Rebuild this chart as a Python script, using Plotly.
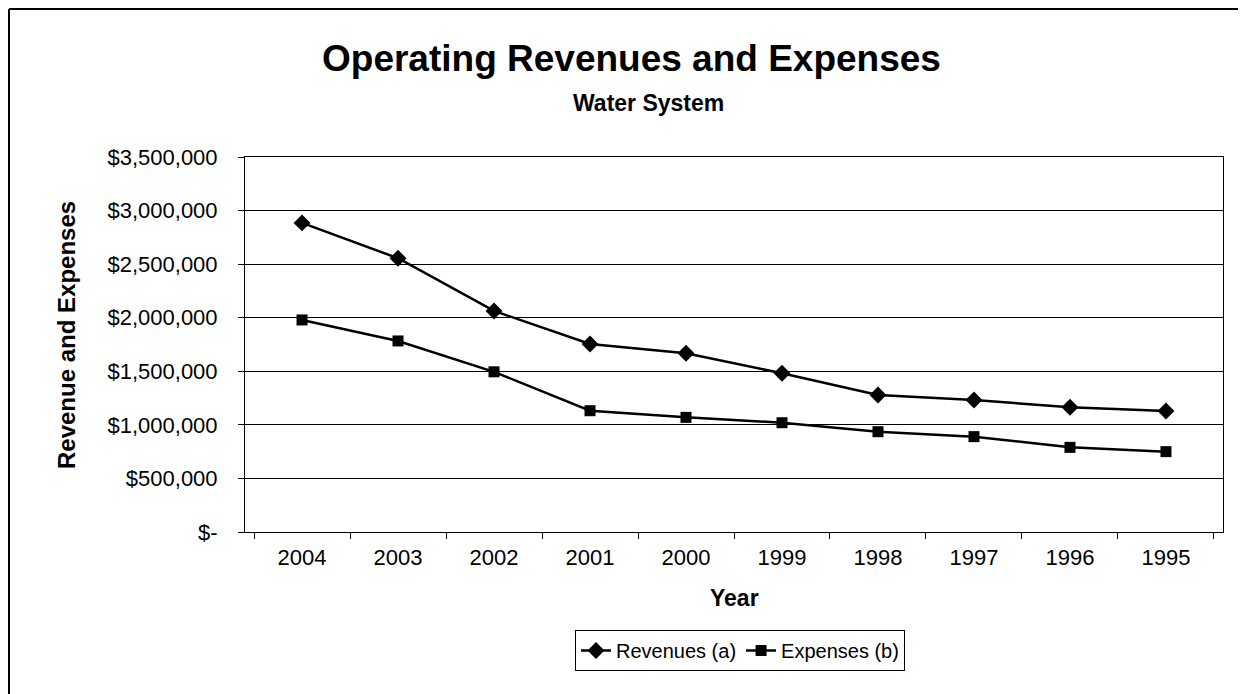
import plotly.graph_objects as go

years = ["2004", "2003", "2002", "2001", "2000", "1999", "1998", "1997", "1996", "1995"]
revenues = [2885000, 2555000, 2063000, 1755000, 1668000, 1481000, 1279000, 1232000, 1164000, 1129000]
expenses = [1979000, 1783000, 1495000, 1132000, 1070000, 1020000, 936000, 890000, 790000, 750000]
ytick_vals = [0, 500000, 1000000, 1500000, 2000000, 2500000, 3000000, 3500000]
ytick_text = ["$-", "$500,000", "$1,000,000", "$1,500,000", "$2,000,000", "$2,500,000", "$3,000,000", "$3,500,000"]

FONT = "Liberation Sans, Arial, sans-serif"
OFF = 8                      # page body margin
W, H = 1246 - OFF, 694 - OFF
L, R, T, B = 245, 1223, 157, 532   # plot area in screen pixels
pw, ph = R - L, B - T

def px(x):
    return (x - L) / pw

def py(y):
    return (B - y) / ph

fig = go.Figure()
fig.add_trace(go.Scatter(
    x=years, y=revenues, name="Revenues (a)", mode="lines+markers",
    line=dict(color="black", width=2.5),
    marker=dict(symbol="diamond", size=13, color="black"),
))
fig.add_trace(go.Scatter(
    x=years, y=expenses, name="Expenses (b)", mode="lines+markers",
    line=dict(color="black", width=2.5),
    marker=dict(symbol="square", size=11, color="black"),
))

fig.update_layout(
    width=W, height=H,
    margin=dict(l=L - OFF, r=W + OFF - R, t=T - OFF, b=H + OFF - B, pad=0),
    paper_bgcolor="white", plot_bgcolor="white",
    font=dict(family=FONT, color="black", size=22),
    showlegend=True,
    legend=dict(
        orientation="h", x=px(740), xanchor="center", y=py(630), yanchor="top",
        bordercolor="black", borderwidth=1, bgcolor="white",
        font=dict(family=FONT, size=20, color="black"),
        itemwidth=30, tracegroupgap=0,
    ),
    xaxis=dict(
        type="category", showgrid=False, showline=True, linecolor="black", linewidth=1,
        mirror=True, ticks="outside", ticklen=6, tickcolor="black", tickson="boundaries",
        tickfont=dict(family=FONT, size=22, color="black"),
        ticklabelstandoff=6,
    ),
    yaxis=dict(
        range=[0, 3500000], tickvals=ytick_vals, ticktext=ytick_text,
        showgrid=True, gridcolor="black", gridwidth=1,
        showline=True, linecolor="black", linewidth=1, mirror=True,
        ticks="outside", ticklen=6, tickcolor="black",
        tickfont=dict(family=FONT, size=22, color="black"),
        ticklabelstandoff=16, zeroline=False,
    ),
)

annotations = [
    dict(text="<b>Operating Revenues and Expenses</b>", x=px(631), y=py(58),
         font=dict(family=FONT, size=37, color="black")),
    dict(text="<b>Water System</b>", x=px(648), y=py(103),
         font=dict(family=FONT, size=23, color="black")),
    dict(text="<b>Revenue and Expenses</b>", x=px(66), y=py(335), textangle=-90,
         font=dict(family=FONT, size=24, color="black")),
    dict(text="<b>Year</b>", x=px(734), y=py(598),
         font=dict(family=FONT, size=23, color="black")),
]
for a in annotations:
    a.update(xref="paper", yref="paper", xanchor="center", yanchor="middle", showarrow=False)
    fig.add_annotation(**a)

# outer chart frame (top and left edges visible in the reference)
fig.add_shape(type="line", xref="paper", yref="paper", x0=px(9), x1=px(1260), y0=py(9), y1=py(9),
              line=dict(color="black", width=2))
fig.add_shape(type="line", xref="paper", yref="paper", x0=px(9), x1=px(9), y0=py(9), y1=py(720),
              line=dict(color="black", width=2))

fig.write_html("out.html")
